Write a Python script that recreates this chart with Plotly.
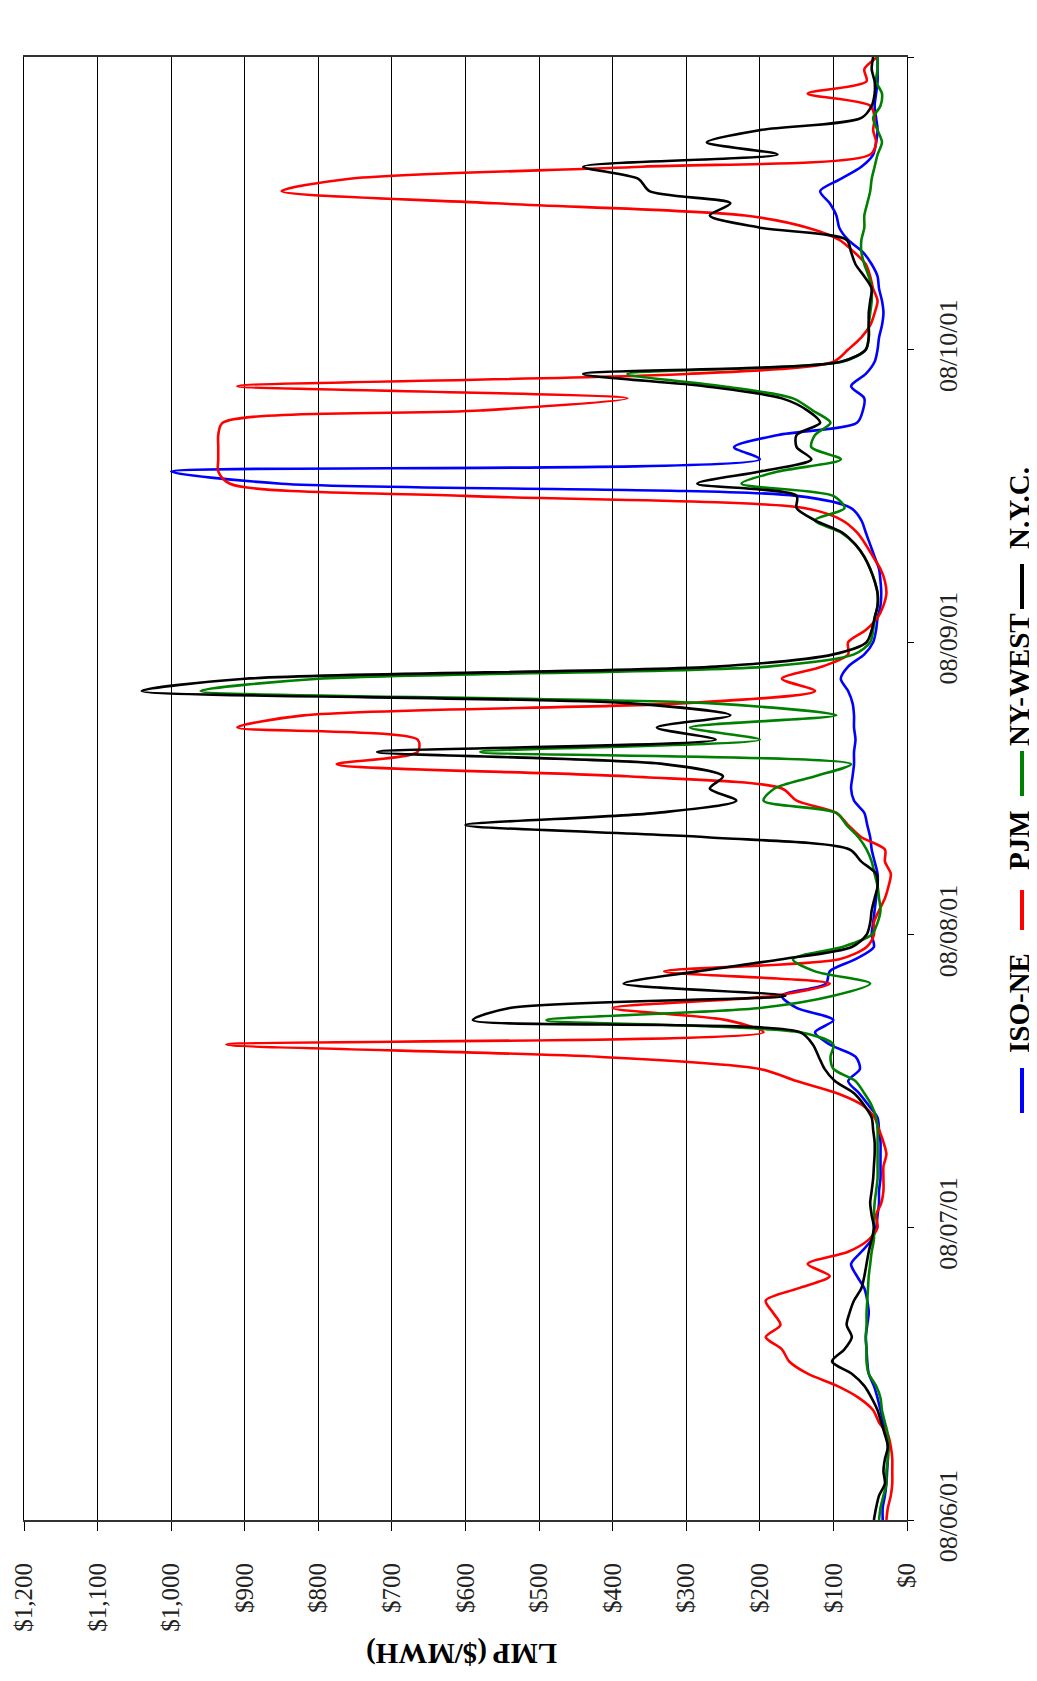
import plotly.graph_objects as go
import pandas as pd

# ---------------- data (hourly, 08/06/01 00:00 -> 08/11/01 00:00) ----------------
START = "2001-08-06 00:00"
N_POINTS = 121
times = pd.date_range(START, periods=N_POINTS, freq="h")

iso_ne = [
    33, 33, 30, 28, 27, 26, 26, 28, 32, 36, 40, 45, 52,
    54, 55, 56, 54, 52, 54, 58, 68, 76, 62, 48, 42,
    40, 38, 38, 36, 36, 36, 36, 38, 40, 52, 65, 80,
    64, 70, 105, 125, 100, 150, 170, 110, 105, 70, 45, 48,
    46, 44, 42, 40, 40, 44, 48, 50, 54, 58, 72, 76,
    74, 72, 72, 70, 72, 72, 74, 80, 90, 80, 58, 46,
    42, 40, 36, 35, 36, 38, 44, 50, 56, 62, 76, 150,
    850, 1000, 200, 235, 175, 68, 60, 58, 76, 56, 44, 40,
    38, 34, 32, 34, 38, 40, 48, 60, 80, 92, 96, 105,
    118, 90, 62, 46, 42, 40, 42, 44, 42, 40, 40, 40,
]

pjm = [
    28, 26, 22, 20, 20, 20, 22, 26, 38, 46, 65, 95, 135,
    160, 170, 192, 172, 182, 192, 148, 105, 135, 80, 52, 40,
    42, 35, 32, 32, 32, 28, 32, 38, 44, 60, 95, 150,
    200, 420, 925, 195, 245, 400, 180, 105, 330, 92, 55, 45,
    45, 38, 30, 25, 22, 30, 30, 62, 80, 96, 150, 170,
    380, 775, 665, 665, 910, 820, 300, 125, 170, 115, 80, 80,
    56, 40, 32, 28, 30, 36, 46, 56, 68, 88, 140, 600,
    920, 936, 936, 936, 936, 930, 580, 380, 910, 300, 100, 80,
    62, 50, 44, 40, 46, 50, 56, 72, 92, 135, 220, 560,
    850, 760, 360, 50, 42, 46, 44, 50, 135, 55, 58, 40,
]

ny_west = [
    38, 36, 32, 28, 28, 26, 25, 26, 30, 34, 36, 42, 52,
    55, 55, 56, 55, 55, 54, 53, 52, 50, 48, 45, 45,
    45, 44, 42, 40, 40, 40, 40, 40, 42, 48, 58, 70,
    100, 104, 100, 145, 490, 200, 100, 50, 125, 155, 88, 48,
    40, 36, 38, 40, 44, 48, 55, 66, 82, 96, 195, 180,
    125, 76, 580, 200, 295, 96, 270, 960, 800, 190, 72, 50,
    46, 44, 40, 40, 44, 50, 58, 70, 90, 125, 85, 100,
    225, 175, 90, 130, 125, 104, 128, 155, 250, 380, 88, 56,
    52, 52, 50, 48, 48, 52, 58, 62, 62, 58, 58, 54,
    50, 48, 44, 40, 34, 40, 46, 36, 34, 42, 40, 40,
]

nyc = [
    45, 42, 38, 30, 32, 30, 26, 30, 35, 40, 48, 58, 75,
    102, 85, 75, 82, 78, 72, 62, 58, 55, 52, 48, 45,
    48, 50, 48, 46, 45, 44, 44, 46, 48, 58, 72, 98,
    112, 120, 128, 145, 590, 540, 165, 385, 285, 170, 75, 55,
    50, 48, 44, 40, 42, 62, 78, 272, 600, 340, 232, 268,
    250, 330, 720, 260, 340, 240, 380, 1040, 900, 260, 100, 55,
    48, 44, 40, 40, 44, 50, 58, 70, 88, 125, 150, 150,
    285, 200, 130, 150, 150, 118, 135, 170, 275, 440, 90, 56,
    52, 52, 52, 50, 48, 58, 70, 76, 82, 200, 268, 240,
    350, 365, 440, 176, 272, 200, 62, 48, 44, 44, 48, 46,
]

SERIES_NAMES = ["ISO-NE", "PJM", "NY-WEST", "N.Y.C."]
SERIES_COLORS = ["#0000FF", "#FF0000", "#008000", "#000000"]

VALUE_TICKS = [0, 100, 200, 300, 400, 500, 600, 700, 800, 900, 1000, 1100, 1200]
VALUE_TICK_LABELS = ["$0", "$100", "$200", "$300", "$400", "$500", "$600",
                     "$700", "$800", "$900", "$1,000", "$1,100", "$1,200"]
DATE_TICKS = ["2001-08-06", "2001-08-07", "2001-08-08", "2001-08-09",
              "2001-08-10", "2001-08-11"]
DATE_TICK_LABELS = ["08/06/01", "08/07/01", "08/08/01", "08/09/01",
                    "08/10/01", "08/11/01"]

AXIS_TITLE = "LMP ($/MWH)"

# ---------------- figure ----------------
# the page body has an 8px margin; the figure is sized so nothing scrolls
PAGE_OFF = 8
W, H = 1037 - PAGE_OFF, 1681 - 2 * PAGE_OFF
ML, MR, MT, MB = 16, 130, 49, 153
plot_w = W - ML - MR
plot_h = H - MT - MB

SERIF = "Liberation Serif, Times New Roman, serif"

fig = go.Figure()
for name, vals, color in zip(SERIES_NAMES, [iso_ne, pjm, ny_west, nyc], SERIES_COLORS):
    fig.add_trace(go.Scatter(
        x=vals, y=times, mode="lines", name=name, showlegend=False,
        line=dict(color=color, width=2.6, shape="spline", smoothing=0.8),
    ))

fig.update_layout(
    width=W, height=H,
    margin=dict(l=ML, r=MR, t=MT, b=MB, autoexpand=False),
    paper_bgcolor="white", plot_bgcolor="white",
    font=dict(family=SERIF, color="black"),
)

fig.update_xaxes(
    range=[1200, 0], automargin=False,
    tickmode="array", tickvals=VALUE_TICKS, ticktext=VALUE_TICK_LABELS,
    tickangle=-90, tickfont=dict(family=SERIF, size=25, color="#222"),
    showgrid=True, gridcolor="black", gridwidth=1,
    showline=True, linecolor="#333", linewidth=2, mirror=True,
    ticks="outside", ticklen=9, tickcolor="black", tickwidth=1,
    zeroline=False, ticklabelstandoff=22,
)
fig.update_yaxes(
    type="date", range=[DATE_TICKS[0], DATE_TICKS[-1]], side="right",
    automargin=False,
    tickmode="array", tickvals=DATE_TICKS, ticktext=DATE_TICK_LABELS,
    tickangle=-90, tickfont=dict(family=SERIF, size=26, color="#222"),
    showgrid=False, showline=True, linecolor="black", linewidth=1, mirror=True,
    ticks="outside", ticklen=6, tickcolor="black",
    zeroline=False, ticklabelstandoff=12,
)

def px_to_paper_x(page_px):
    return (page_px - PAGE_OFF - ML) / plot_w

def px_to_paper_y(page_py):
    return (H - MB - (page_py - PAGE_OFF)) / plot_h

# upside-down axis title
fig.add_annotation(
    text=AXIS_TITLE, xref="paper", yref="paper",
    x=px_to_paper_x(462), y=px_to_paper_y(1653),
    xanchor="center", yanchor="middle",
    showarrow=False, textangle=180,
    font=dict(family=SERIF, size=29, color="black", weight="bold"),
)

# rotated legend (text + line samples)
leg_text_x = px_to_paper_x(1019)
leg_line_x = px_to_paper_x(1022)
legend_text_y = [1003, 840, 680, 508]
legend_line_y = [(1068, 1113), (890, 930), (751, 796), (564, 609)]
for name, color, ty, (ly0, ly1) in zip(SERIES_NAMES, SERIES_COLORS, legend_text_y, legend_line_y):
    fig.add_annotation(
        text=name, xref="paper", yref="paper", x=leg_text_x, y=px_to_paper_y(ty),
        xanchor="center", yanchor="middle",
        showarrow=False, textangle=-90,
        font=dict(family=SERIF, size=29, color="black", weight="bold"),
    )
    fig.add_shape(
        type="line", xref="paper", yref="paper", layer="above",
        x0=leg_line_x, x1=leg_line_x, y0=px_to_paper_y(ly1), y1=px_to_paper_y(ly0),
        line=dict(color=color, width=4),
    )

fig.write_html("out.html")
